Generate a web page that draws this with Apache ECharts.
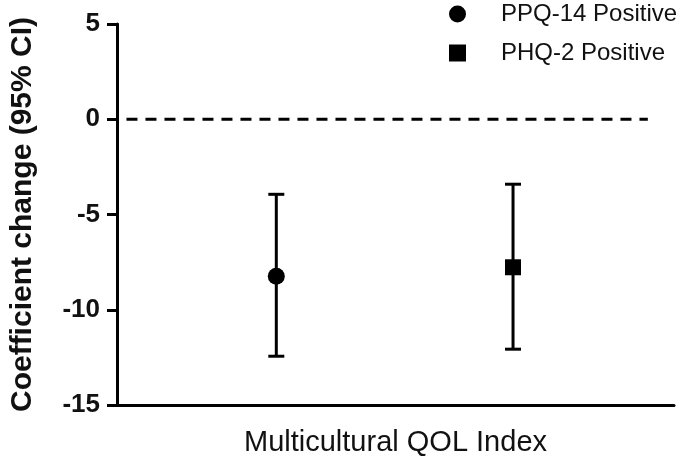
<!DOCTYPE html>
<html>
<head>
<meta charset="utf-8">
<script src="https://cdn.jsdelivr.net/npm/echarts@6/dist/echarts.min.js"></script>
<style>html,body{margin:0;padding:0;background:#fff}#c{width:685px;height:460px}</style>
</head>
<body>
<div id="c"></div>
<script>
// ---- data ----
const categories = ['Multicultural QOL Index'];
const seriesNames = ['PPQ-14 Positive', 'PHQ-2 Positive'];
const estimates = [-8.24, -7.77];
const lowerCI = [-12.44, -12.07];
const upperCI = [-3.94, -3.41];
const yTicks = [-15, -10, -5, 0, 5];
const referenceValue = 0;

// ---- layout / style ----
const dodge = [-0.214, 0.211];
const symbols = ['circle', 'rect'];
const refSpan = [0.017, 0.953];
const font = 'Liberation Sans, Arial, Helvetica, sans-serif';

const chart = echarts.init(document.getElementById('c'));

function makeRender(idx) {
  return function (params, api) {
    const cat = api.value(0);
    const band = api.size([1, 0])[0];
    const off = band * dodge[idx];
    const pm = api.coord([cat, api.value(1)]);
    const pl = api.coord([cat, api.value(2)]);
    const ph = api.coord([cat, api.value(3)]);
    const x = pm[0] + off;
    const capW = 8;
    const st = { stroke: '#000', lineWidth: 3 };
    const children = [
      { type: 'line', shape: { x1: x, y1: pl[1], x2: x, y2: ph[1] }, style: st },
      { type: 'line', shape: { x1: x - capW, y1: pl[1], x2: x + capW, y2: pl[1] }, style: st },
      { type: 'line', shape: { x1: x - capW, y1: ph[1], x2: x + capW, y2: ph[1] }, style: st }
    ];
    if (symbols[idx] === 'circle') {
      children.push({ type: 'circle', shape: { cx: x, cy: pm[1], r: 8.5 }, style: { fill: '#000' } });
    } else {
      children.push({ type: 'rect', shape: { x: x - 8, y: pm[1] - 8, width: 16, height: 16 }, style: { fill: '#000' } });
    }
    return { type: 'group', children: children };
  };
}

const series = seriesNames.map((name, i) => ({
  name: name,
  type: 'custom',
  xAxisIndex: 0,
  renderItem: makeRender(i),
  encode: { x: 0, y: [1, 2, 3] },
  itemStyle: { color: '#000' },
  data: [[0, estimates[i], lowerCI[i], upperCI[i]]],
  z: 5
}));

series.push({
  type: 'line',
  xAxisIndex: 1,
  silent: true,
  symbol: 'none',
  lineStyle: { color: '#000', width: 3, type: [11, 8] },
  data: [[refSpan[0], referenceValue], [refSpan[1], referenceValue]],
  z: 3
});

chart.setOption({
  animation: false,
  backgroundColor: '#fff',
  grid: { left: 100, right: 11, top: 24, bottom: 55, containLabel: false },
  legend: {
    orient: 'vertical',
    left: 444,
    top: -3,
    itemWidth: 17,
    itemHeight: 17,
    itemGap: 15,
    data: [
      { name: seriesNames[0], icon: 'circle' },
      { name: seriesNames[1], icon: 'rect' }
    ],
    textStyle: { fontFamily: font, fontSize: 24, color: '#111', padding: [0, 0, 0, 30] }
  },
  xAxis: [{
    type: 'category',
    data: categories,
    boundaryGap: true,
    axisLine: { onZero: false, lineStyle: { color: '#000', width: 3 } },
    axisTick: { alignWithLabel: true, length: 9, lineStyle: { color: '#000', width: 3 } },
    axisLabel: { fontFamily: font, fontSize: 29, color: '#111', margin: 23 },
    splitLine: { show: false }
  }, {
    type: 'value',
    min: 0, max: 1,
    show: false
  }],
  yAxis: {
    type: 'value',
    min: yTicks[0],
    max: yTicks[yTicks.length - 1],
    interval: 5,
    name: 'Coefficient change (95% CI)',
    nameLocation: 'middle',
    nameRotate: 90,
    nameGap: 79,
    nameTextStyle: { fontFamily: font, fontSize: 30, fontWeight: 'bold', color: '#111' },
    axisLine: { show: true, lineStyle: { color: '#000', width: 3 } },
    axisTick: { show: true, length: 10, lineStyle: { color: '#000', width: 3 } },
    axisLabel: { fontFamily: font, fontSize: 26, fontWeight: 'bold', color: '#111', margin: 17 },
    splitLine: { show: false }
  },
  series: series
});
</script>
</body>
</html>
